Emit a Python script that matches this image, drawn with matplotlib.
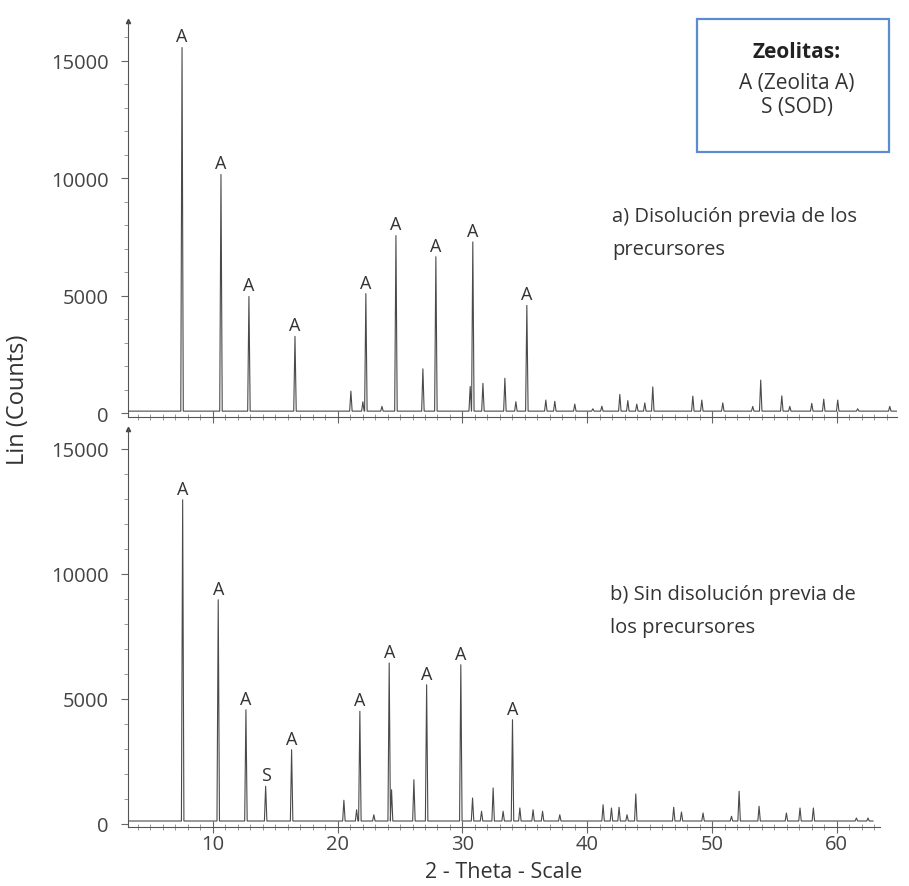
import numpy as np
import matplotlib
matplotlib.use("Agg")
import matplotlib.pyplot as plt
from matplotlib.patches import Rectangle
from matplotlib.ticker import MultipleLocator

plt.rcParams['font.family'] = ['Open Sans', 'DejaVu Sans']

# data: peak positions (2-theta) and heights (counts)
# a) Disolucion previa de los precursores
pos_a = [7.53, 10.65, 12.89, 16.58, 21.06, 22.02, 22.26, 23.55, 24.67, 26.83,
         27.87, 30.62, 30.83, 31.64, 33.40, 34.28, 35.16, 36.68, 37.40, 39.00,
         40.45, 41.17, 42.61, 43.25, 43.97, 44.61, 45.25, 48.46, 49.18, 50.86,
         53.26, 53.90, 55.59, 56.23, 57.99, 58.95, 60.07, 61.67, 64.24]
int_a = [15570, 10170, 4980, 3280, 950, 500, 5100, 300, 7570, 1900,
         6670, 1150, 7300, 1280, 1500, 500, 4600, 570, 520, 400,
         200, 310, 810, 550, 400, 450, 1130, 740, 570, 450,
         300, 1420, 750, 300, 430, 610, 570, 200, 300]
tag_a = ['A', 'A', 'A', 'A', '', '', 'A', '', 'A', '',
         'A', '', 'A', '', '', '', 'A', '', '', '',
         '', '', '', '', '', '', '', '', '', '',
         '', '', '', '', '', '', '', '', '']
range_a = (3.2, 64.85)
bg_a = 100

# b) Sin disolucion previa de los precursores
pos_b = [7.58, 10.43, 12.65, 14.23, 16.31, 20.50, 21.52, 21.78, 22.90, 24.13,
         24.32, 26.11, 27.13, 29.87, 30.81, 31.53, 32.46, 33.26, 34.01, 34.60,
         35.66, 36.42, 37.80, 41.27, 41.94, 42.55, 43.19, 43.89, 46.93, 47.55,
         49.28, 51.56, 52.17, 53.77, 55.96, 57.05, 58.12, 61.57, 62.50]
int_b = [12970, 8970, 4570, 1510, 2970, 950, 570, 4510, 370, 6440,
         1370, 1770, 5570, 6370, 1040, 510, 1440, 510, 4170, 640,
         570, 510, 370, 770, 640, 670, 370, 1200, 670, 480,
         440, 310, 1310, 710, 440, 640, 640, 240, 240]
tag_b = ['A', 'A', 'A', 'S', 'A', '', '', 'A', '', 'A',
         '', '', 'A', 'A', '', '', '', '', 'A', '',
         '', '', '', '', '', '', '', '', '', '',
         '', '', '', '', '', '', '', '', '']
range_b = (3.2, 62.9)
bg_b = 120


def pattern(pos, hgt, xr, bg, hw=0.1):
    # stick peaks drawn as narrow triangles on a flat background
    xs, ys = [xr[0]], [bg]
    for p, h in zip(pos, hgt):
        xs += [p - hw, p, p + hw]
        ys += [bg, h, bg]
    xs.append(xr[1])
    ys.append(bg)
    return xs, ys


W, H = 909, 887
fig = plt.figure(figsize=(W / 100, H / 100), dpi=100)

ax_a = fig.add_axes([128 / W, (H - 418) / H, (897 - 128) / W, 396 / H])
ax_b = fig.add_axes([128 / W, (H - 827.5) / H, (880 - 128) / W, 397.5 / H])

line_col = '#4a4a4a'
txt_col = '#333333'
fs = 14.5

for ax, pos, hgt, tags, xr, bg, ylim, xmax in [
        (ax_a, pos_a, int_a, tag_a, range_a, bg_a, (-150, 16700), 64.82),
        (ax_b, pos_b, int_b, tag_b, range_b, bg_b, (-100, 15800), 63.46)]:
    xs, ys = pattern(pos, hgt, xr, bg)
    ax.plot(xs, ys, color=line_col, lw=0.8)
    for p, h, t in zip(pos, hgt, tags):
        if t:
            ax.annotate(t, (p, h), xytext=(0, 1.5), textcoords='offset points',
                        ha='center', va='bottom', fontsize=13, color=txt_col)
    ax.set_xlim(3.2, xmax)
    ax.set_ylim(*ylim)
    for s in ['top', 'right']:
        ax.spines[s].set_visible(False)
    for s in ['left', 'bottom']:
        ax.spines[s].set_color('#555555')
        ax.spines[s].set_linewidth(0.8)
    ax.yaxis.set_major_locator(MultipleLocator(5000))
    ax.yaxis.set_minor_locator(MultipleLocator(1000))
    ax.xaxis.set_major_locator(MultipleLocator(10))
    ax.xaxis.set_minor_locator(MultipleLocator(1))
    ax.tick_params(axis='y', which='major', direction='out', length=5,
                   color='#666666', labelsize=fs, labelcolor='#444444', pad=9)
    ax.tick_params(axis='y', which='minor', direction='out', length=3, color='#888888')
    ax.tick_params(axis='x', which='major', direction='inout', length=9,
                   color='#666666', labelsize=fs, labelcolor='#444444', pad=1)
    ax.tick_params(axis='x', which='minor', direction='inout', length=4, color='#888888')
    ax.plot(0, 1, marker='^', ms=3, color='#444444', transform=ax.transAxes, clip_on=False)

ax_a.tick_params(axis='x', labelbottom=False)

ax_b.set_xlabel('2 - Theta - Scale', fontsize=15.5, color=txt_col, labelpad=5)
fig.text(18 / W, (H - 400) / H, 'Lin (Counts)', rotation=90, ha='center',
         va='center', fontsize=17, color=txt_col)

fig.text(612 / W, (H - 217) / H, 'a) Disolución previa de los', fontsize=fs,
         color=txt_col, va='center')
fig.text(612 / W, (H - 250) / H, 'precursores', fontsize=fs, color=txt_col, va='center')
fig.text(610 / W, (H - 595) / H, 'b) Sin disolución previa de', fontsize=fs,
         color=txt_col, va='center')
fig.text(610 / W, (H - 628) / H, 'los precursores', fontsize=fs, color=txt_col, va='center')

# legend box
fig.patches.append(Rectangle((697 / W, (H - 153) / H), 192 / W, 133 / H,
                             transform=fig.transFigure, fill=False,
                             edgecolor='#5b8bd0', lw=1.6))
fig.text(797 / W, (H - 53) / H, 'Zeolitas:', fontsize=15, fontweight='bold',
         color='#222222', ha='center', va='center')
fig.text(797 / W, (H - 83) / H, 'A (Zeolita A)', fontsize=15, color=txt_col,
         ha='center', va='center')
fig.text(797 / W, (H - 108) / H, 'S (SOD)', fontsize=15, color=txt_col,
         ha='center', va='center')

plt.savefig('out.png', facecolor='white', dpi=100)
